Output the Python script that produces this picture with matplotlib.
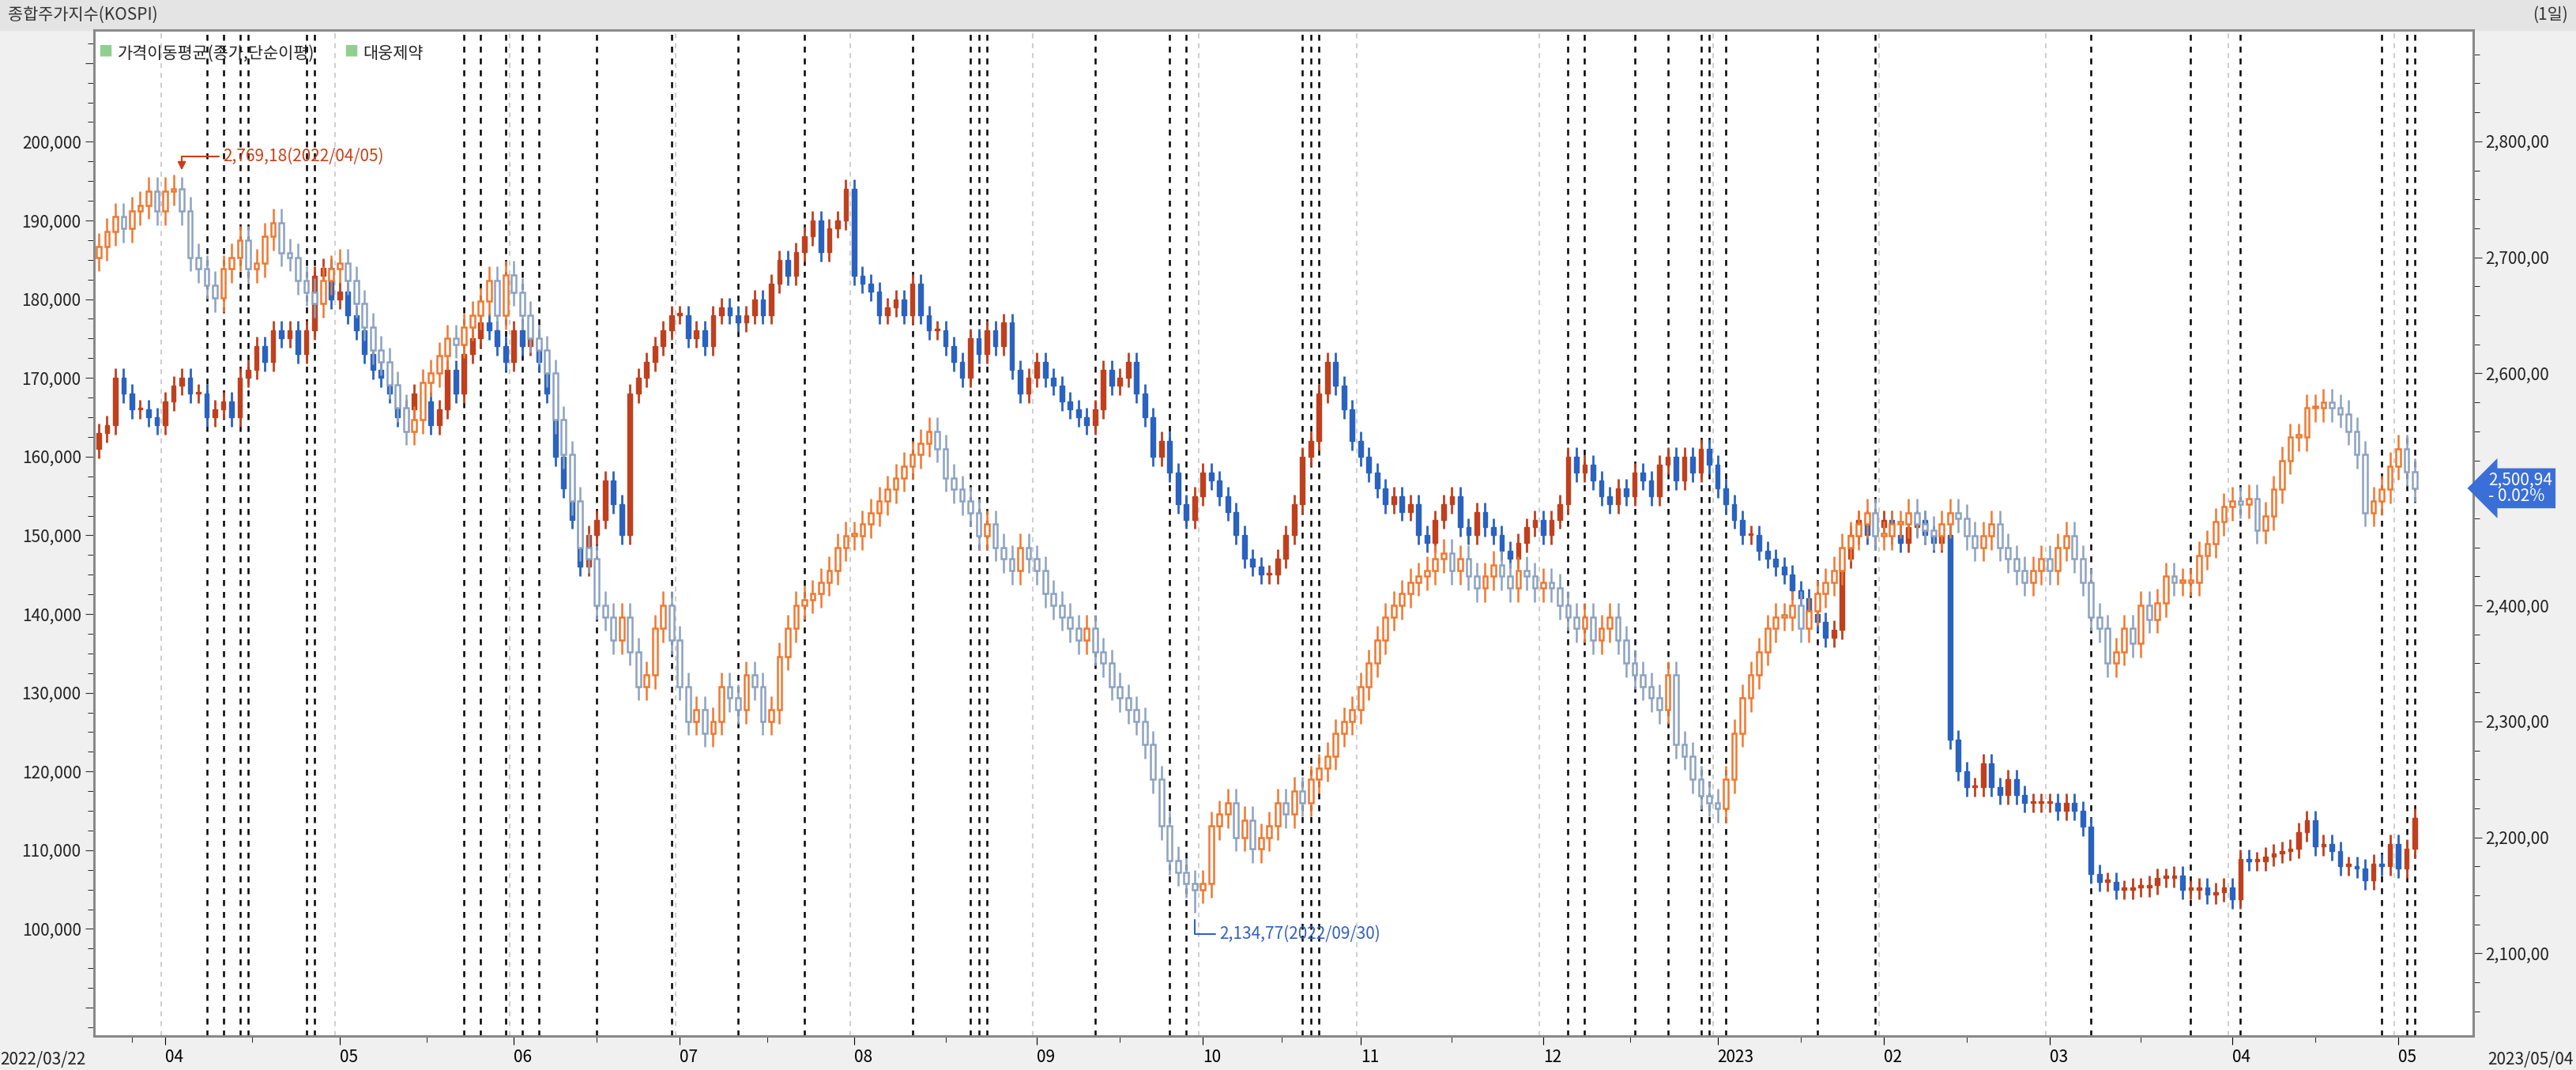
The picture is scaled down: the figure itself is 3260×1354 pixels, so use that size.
import numpy as np
import matplotlib.pyplot as plt
from matplotlib.patches import Rectangle
from matplotlib.ticker import MultipleLocator, FuncFormatter
from matplotlib import font_manager

names = {f.name for f in font_manager.fontManager.ttflist}
cjk = [n for n in ['Noto Sans CJK KR', 'Noto Sans CJK JP', 'Noto Sans CJK SC', 'Noto Sans CJK TC'] if n in names]
plt.rcParams['font.family'] = cjk + ['DejaVu Sans']

# month labels and closes per month (trading days)
months = ['03', '04', '05', '06', '07', '08', '09', '10', '11', '12', '2023', '02', '03', '04', '05']

# 대웅제약 closes, thousand won
dw_close = [
    [163, 164, 170, 168, 166, 166, 165, 164],
    [167, 169, 170, 168, 168, 165, 166, 167, 165, 170, 171, 174, 172, 176, 175, 176, 173, 176, 183, 184, 180],
    [181, 178, 176, 173, 171, 170, 168, 165, 166, 168, 167, 164, 166, 171, 168, 173, 175, 177, 176, 174, 172],
    [176, 174, 175, 172, 168, 160, 156, 152, 146, 150, 152, 157, 154, 150, 168, 170, 172, 174, 176, 178],
    [178, 175, 176, 174, 178, 179, 178, 177, 178, 180, 178, 182, 185, 183, 186, 188, 190, 186, 189, 190, 194],
    [183, 182, 181, 178, 179, 180, 178, 182, 178, 176, 176, 174, 172, 170, 175, 173, 176, 174, 177, 171, 168, 170],
    [172, 170, 169, 167, 166, 165, 164, 166, 171, 169, 170, 172, 168, 165, 160, 162, 158, 154, 152, 155],
    [158, 157, 155, 153, 150, 147, 146, 145, 145, 147, 150, 154, 160, 162, 168, 172, 169, 166, 162],
    [160, 158, 156, 154, 155, 153, 154, 150, 149, 152, 154, 155, 151, 150, 153, 151, 150, 148, 147, 149, 151, 152],
    [150, 152, 154, 160, 158, 159, 157, 155, 154, 156, 155, 158, 157, 155, 159, 160, 157, 160, 158, 161, 159],
    [156, 154, 152, 150, 150, 148, 147, 146, 145, 143, 142, 140, 139, 137, 138, 147, 150, 152, 150, 151],
    [152, 150, 149, 151, 152, 150, 149, 150, 124, 120, 118, 118, 121, 118, 117, 119, 117, 116, 116, 116],
    [116, 115, 116, 115, 113, 107, 106, 106, 105, 105, 105.3, 105.3, 105.6, 106.5, 106.5, 106.8, 105.0, 105.0, 105.3, 104.4, 104.7, 105.3],
    [103.8, 108.9, 108.6, 108.6, 109.2, 109.6, 109.9, 110.2, 112.3, 113.8, 110.5, 110.8, 109.9, 108.0, 108.0, 107.7, 106.2, 108.3, 108.0, 110.8],
    [107.7, 110.2, 114.1],
]

# KOSPI closes
ks_close = [
    [2709, 2722, 2735, 2725, 2740, 2745, 2757, 2740],
    [2757, 2759, 2740, 2700, 2690, 2676, 2665, 2690, 2700, 2715, 2690, 2695, 2718, 2730, 2704, 2700, 2680, 2670, 2660, 2680, 2690],
    [2695, 2680, 2660, 2640, 2620, 2610, 2590, 2570, 2550, 2560, 2592, 2600, 2615, 2630, 2625, 2640, 2650, 2662, 2680, 2650, 2685],
    [2670, 2650, 2630, 2620, 2600, 2560, 2530, 2490, 2450, 2440, 2400, 2390, 2370, 2390, 2360, 2330, 2340, 2380, 2400, 2370],
    [2330, 2300, 2310, 2290, 2300, 2330, 2320, 2310, 2340, 2330, 2300, 2310, 2356, 2380, 2400, 2405, 2410, 2420, 2430, 2450, 2460],
    [2460, 2470, 2480, 2490, 2500, 2510, 2520, 2530, 2540, 2550, 2535, 2510, 2500, 2490, 2480, 2460, 2470, 2450, 2440, 2430, 2450, 2440],
    [2430, 2410, 2400, 2390, 2380, 2370, 2380, 2360, 2350, 2330, 2320, 2310, 2300, 2280, 2250, 2210, 2180, 2170, 2160, 2155],
    [2160, 2210, 2220, 2230, 2200, 2215, 2190, 2200, 2210, 2230, 2220, 2240, 2230, 2250, 2260, 2270, 2290, 2300, 2310],
    [2330, 2350, 2370, 2390, 2400, 2410, 2420, 2425, 2430, 2440, 2445, 2430, 2440, 2425, 2415, 2425, 2435, 2425, 2415, 2430, 2425, 2415],
    [2420, 2415, 2400, 2390, 2380, 2390, 2370, 2380, 2390, 2370, 2350, 2340, 2330, 2320, 2310, 2340, 2280, 2270, 2250, 2236, 2230],
    [2225, 2250, 2290, 2320, 2340, 2360, 2380, 2390, 2390, 2400, 2380, 2395, 2410, 2420, 2430, 2450, 2460, 2470, 2480, 2460],
    [2460, 2470, 2470, 2480, 2470, 2465, 2460, 2470, 2480, 2475, 2460, 2450, 2460, 2470, 2450, 2440, 2430, 2420, 2430, 2440],
    [2430, 2450, 2460, 2440, 2420, 2390, 2380, 2350, 2360, 2380, 2367, 2400, 2388, 2402, 2425, 2420, 2420, 2420, 2443, 2453, 2472, 2485],
    [2490, 2487, 2492, 2465, 2477, 2500, 2525, 2545, 2545, 2570, 2570, 2575, 2570, 2565, 2550, 2530, 2480, 2490, 2500, 2520],
    [2535, 2515, 2500.94],
]
dw_first_open = 161
ks_first_open = 2700
ks_max = (10, 2769.18, '2,769,18(2022/04/05)')
ks_min = (132, 2134.77, '2,134,77(2022/09/30)')

# event markers (trading-day index)
event_idx = [13, 15, 17, 18, 25, 26, 44, 46, 49, 51, 53, 60, 69, 77, 85, 98, 105, 106, 107, 120,
             129, 131, 145, 146, 147, 177, 179, 185, 189, 193, 194, 196, 207, 214, 240, 252, 258,
             275, 278, 279]

dw_c = np.array([v for m in dw_close for v in m]) * 1000
ks_c = np.array([v for m in ks_close for v in m], dtype=float)
month_start = np.cumsum([0] + [len(m) for m in dw_close])[:-1]
n = len(dw_c)
x = np.arange(n)

dw_o = np.r_[dw_first_open * 1000, dw_c[:-1]]
ks_o = np.r_[ks_first_open, ks_c[:-1]]
dw_h = np.maximum(dw_o, dw_c) + 1200
dw_l = np.minimum(dw_o, dw_c) - 1200
ks_h = np.maximum(ks_o, ks_c) + 12
ks_l = np.minimum(ks_o, ks_c) - 12
ks_h[ks_max[0]] = ks_max[1]
ks_l[ks_min[0]] = ks_min[1]

fig = plt.figure(figsize=(32.6, 13.54), dpi=100)
fig.patch.set_facecolor('#F0F0F0')
ax = fig.add_axes([0.0364, 0.032, 0.9236, 0.94])
ax2 = ax.twinx()

# title bar
fig.patches.append(Rectangle((0, 0.972), 1, 0.028, transform=fig.transFigure, color='#E4E4E4', zorder=0))
fig.text(0.003, 0.986, '종합주가지수(KOSPI)', fontsize=15, va='center', color='#333333')
fig.text(0.997, 0.986, '(1일)', fontsize=15, va='center', ha='right', color='#333333')

UP, DN = '#C0401E', '#2A62C0'
KUP, KDN = '#F07830', '#8CA2C0'
w = 0.55

for i in x:
    c = UP if dw_c[i] >= dw_o[i] else DN
    ax.vlines(i, dw_l[i], dw_h[i], color=c, lw=2, zorder=3)
    lo, hi = sorted((dw_o[i], dw_c[i]))
    ax.add_patch(Rectangle((i - w / 2, lo), w, max(hi - lo, 250), color=c, zorder=4))
    k = KUP if ks_c[i] >= ks_o[i] else KDN
    lo, hi = sorted((ks_o[i], ks_c[i]))
    ax2.vlines(i, ks_l[i], lo, color=k, lw=1.8, zorder=3)
    ax2.vlines(i, hi, ks_h[i], color=k, lw=1.8, zorder=3)
    ax2.add_patch(Rectangle((i - w / 2, lo), w, max(hi - lo, 2), facecolor='white', edgecolor=k, lw=1.8, zorder=4))

for s in month_start[1:]:
    ax.axvline(s - 0.5, color='#D0D0D0', ls=(0, (3, 3)), lw=1.5, zorder=1)
for e in event_idx:
    ax.axvline(e, color='black', ls=(0, (3, 3)), lw=1.8, zorder=2)

ax.set_xlim(-0.6, 286)
ax.set_ylim(86430, 214200)
ax2.set_ylim(2029, 2896)
ax.set_facecolor('white')
ax2.set_zorder(ax.get_zorder() + 1)
ax2.patch.set_visible(False)

ax.yaxis.set_major_locator(MultipleLocator(10000))
ax.yaxis.set_minor_locator(MultipleLocator(2500))
ax.yaxis.set_major_formatter(FuncFormatter(lambda v, p: f'{int(v):,}' if 100000 <= v <= 200000 else ''))
ax2.yaxis.set_major_locator(MultipleLocator(100))
ax2.yaxis.set_minor_locator(MultipleLocator(25))
# 2,500 label sits under the last-price box
ax2.yaxis.set_major_formatter(FuncFormatter(
    lambda v, p: f'{int(v):,},00' if 2100 <= v <= 2800 and abs(v - 2500) > 1 else ''))
for a in (ax, ax2):
    a.tick_params(axis='y', labelsize=15, length=8, color='#333333', labelcolor='#222222')
    a.tick_params(axis='y', which='minor', length=6)
    for sp in a.spines.values():
        sp.set_color('#888888')
        sp.set_linewidth(2)

ax.set_xticks(month_start[1:])
ax.set_xticklabels(months[1:])
ax.set_xticks([s + (month_start[k + 1] - s) / 2 for k, s in enumerate(month_start[:-1])], minor=True)
ax.tick_params(axis='x', labelsize=15, length=8, pad=4)
ax.tick_params(axis='x', which='minor', length=6)
for lbl in ax.get_xticklabels():
    lbl.set_ha('left')
fig.text(0.0, 0.005, '2022/03/22', fontsize=15, color='#222222')
fig.text(0.999, 0.005, '2023/05/04', fontsize=15, color='#222222', ha='right')

# legend text
ax.text(0.002, 0.985, '■', transform=ax.transAxes, fontsize=13, va='top', color='#8FD08F', zorder=6)
ax.text(0.010, 0.985, '가격이동평균(종가,단순이평)', transform=ax.transAxes, fontsize=15, va='top', color='#222222', zorder=6)
ax.text(0.105, 0.985, '■', transform=ax.transAxes, fontsize=13, va='top', color='#8FD08F', zorder=6)
ax.text(0.113, 0.985, '대웅제약', transform=ax.transAxes, fontsize=15, va='top', color='#222222', zorder=6)

# max / min annotations
ax2.annotate(ks_max[2], xy=(ks_max[0], ks_max[1] + 4), xytext=(ks_max[0] + 5, ks_max[1] + 18),
             color='#C84018', fontsize=15, va='center',
             arrowprops=dict(arrowstyle='-|>', color='#C84018', connectionstyle='angle,angleA=0,angleB=90', lw=1.5))
ax2.annotate(ks_min[2], xy=(ks_min[0], ks_min[1] - 4), xytext=(ks_min[0] + 3, ks_min[1] - 18),
             color='#3060C0', fontsize=15, va='center',
             arrowprops=dict(arrowstyle='-', color='#3060C0', connectionstyle='angle,angleA=0,angleB=90', lw=1.5))

# last price box
last = ks_c[-1]
ax2.annotate(f'{last:,.2f}'.replace('.', ',') + '\n- 0.02%', xy=(1.0, last), xycoords=('axes fraction', 'data'),
             xytext=(14, 0), textcoords='offset points', fontsize=15, color='white', va='center', ha='left',
             linespacing=0.9,
             bbox=dict(boxstyle='larrow,pad=0.2', facecolor='#3A6FD8', edgecolor='none'), annotation_clip=False, zorder=10)

fig.savefig('out.png', dpi=100)
